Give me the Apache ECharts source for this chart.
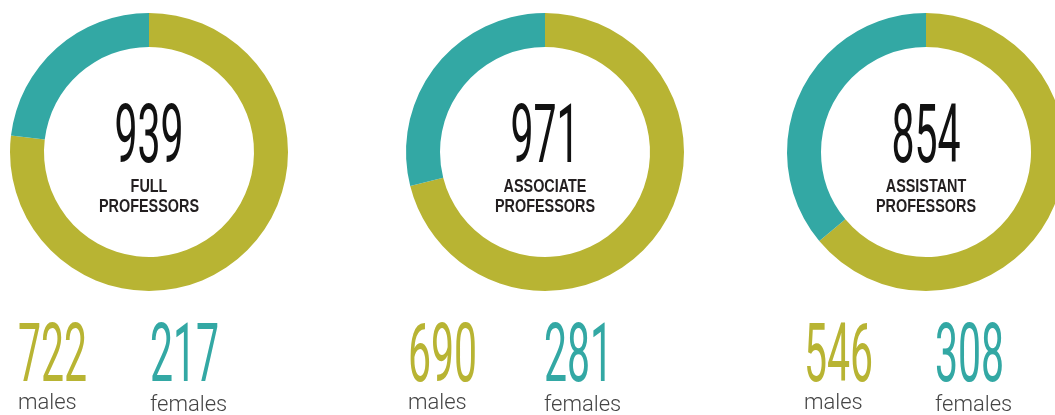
<!DOCTYPE html>
<html>
<head>
<meta charset="utf-8">
<script src="https://cdn.jsdelivr.net/npm/echarts@6/dist/echarts.min.js"></script>
<style>
  html, body { margin: 0; padding: 0; background: #fff; }
  #chart { width: 1055px; height: 415px; }
</style>
</head>
<body>
<div id="chart"></div>
<script>
// ranks, one donut each
const ranks = ["FULL\nPROFESSORS", "ASSOCIATE\nPROFESSORS", "ASSISTANT\nPROFESSORS"];
const males = [722, 690, 546];
const females = [217, 281, 308];

const OLIVE = "#b8b433";
const TEAL = "#33a8a4";

// layout (px)
const centers = [[149, 152], [545, 152], [926, 152]];
const maleX = [18, 408, 804];
const femaleX = [150, 544, 935];

const chart = echarts.init(document.getElementById("chart"));

const series = [];
const graphic = [];

ranks.forEach((rank, i) => {
  const total = males[i] + females[i];
  series.push({
    type: "pie",
    center: centers[i],
    radius: [105, 139],
    startAngle: 90,
    clockwise: true,
    silent: true,
    label: { show: false },
    labelLine: { show: false },
    emphasis: { disabled: true },
    data: [
      { name: "males", value: males[i], itemStyle: { color: OLIVE } },
      { name: "females", value: females[i], itemStyle: { color: TEAL } },
    ],
  });

  // big total in the middle
  graphic.push({
    type: "text",
    x: centers[i][0],
    y: 141,
    scaleX: 0.5,
    style: {
      text: String(total),
      fill: "#111",
      fontFamily: "Roboto",
      fontSize: 82,
      lineHeight: 82,
      align: "center",
      verticalAlign: "middle",
    },
  });

  // rank name, two lines
  rank.split("\n").forEach((line, j) => {
    graphic.push({
      type: "text",
      x: centers[i][0],
      y: 187 + j * 20,
      scaleX: 0.8,
      style: {
        text: line,
        fill: "#231f20",
        fontFamily: "Liberation Sans",
        fontWeight: "bold",
        fontSize: 18,
        lineHeight: 18,
        align: "center",
        verticalAlign: "middle",
      },
    });
  });

  // bottom counts
  [[males[i], maleX[i], OLIVE, "males"], [females[i], femaleX[i], TEAL, "females"]].forEach(([v, x, c, word]) => {
    graphic.push({
      type: "text",
      x: x,
      y: 360,
      scaleX: 0.5,
      style: {
        text: String(v),
        fill: c,
        fontFamily: "Roboto",
        fontSize: 82,
        lineHeight: 82,
        align: "left",
        verticalAlign: "middle",
      },
    });
    graphic.push({
      type: "text",
      x: x,
      y: word === "males" ? 403 : 405,
      style: {
        text: word,
        fill: "#444",
        fontFamily: "Roboto",
        fontWeight: 300,
        fontSize: 22,
        lineHeight: 22,
        align: "left",
        verticalAlign: "middle",
      },
    });
  });
});

chart.setOption({
  backgroundColor: "#fff",
  animation: false,
  series: series,
  graphic: graphic,
});
</script>
</body>
</html>
